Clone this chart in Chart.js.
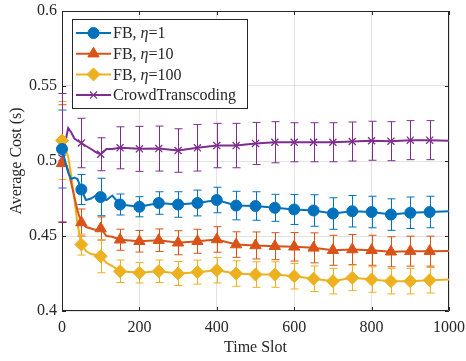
<!DOCTYPE html>
<html>
<head>
<meta charset="utf-8">
<script src="https://cdn.jsdelivr.net/npm/chart.js@4.4.1/dist/chart.umd.min.js"></script>
<style>
  html, body { margin: 0; padding: 0; background: #fff; }
  canvas { display: block; }
</style>
</head>
<body>
<canvas id="myChart" width="466" height="361"></canvas>
<script>
  // values
  const timeSlots = [0, 8, 16, 24, 32, 40, 50, 62, 75, 87, 100, 115, 130, 150, 200, 250, 300, 350, 400,
    450, 500, 550, 600, 650, 700, 750, 800, 850, 900, 950, 1000];
  const markerSlots = [0, 50, 100, 150, 200, 250, 300, 350, 400, 450, 500, 550, 600, 650, 700, 750, 800, 850, 900, 950];

  const costFB1 = [0.508, 0.500, 0.492, 0.488, 0.489, 0.488, 0.481, 0.474, 0.475, 0.477, 0.476, 0.474, 0.477, 0.471,
    0.4695, 0.472, 0.471, 0.472, 0.474, 0.4703, 0.470, 0.4688, 0.4677, 0.467, 0.465, 0.4665, 0.466, 0.4643, 0.4655, 0.466, 0.4665];
  const costFB10 = [0.4985, 0.499, 0.494, 0.485, 0.476, 0.467, 0.459, 0.456, 0.455, 0.454, 0.455, 0.450, 0.4495, 0.4475,
    0.4465, 0.4472, 0.4455, 0.4465, 0.4477, 0.4443, 0.4437, 0.4432, 0.4428, 0.4421, 0.4405, 0.441, 0.4405, 0.4395, 0.4399, 0.4399, 0.440];
  const costFB100 = [0.5137, 0.508, 0.503, 0.490, 0.475, 0.458, 0.4443, 0.440, 0.438, 0.4375, 0.4365, 0.432, 0.430, 0.4265,
    0.4255, 0.4265, 0.425, 0.4259, 0.4272, 0.425, 0.4243, 0.4243, 0.4232, 0.4215, 0.4199, 0.4221, 0.421, 0.4199, 0.4199, 0.4205, 0.421];
  const costCrowd = [0.502, 0.512, 0.522, 0.519, 0.515, 0.5135, 0.512, 0.510, 0.508, 0.506, 0.5045, 0.508, 0.508, 0.5088,
    0.5081, 0.5083, 0.507, 0.5088, 0.5103, 0.5103, 0.5117, 0.5125, 0.5125, 0.5125, 0.5125, 0.513, 0.5135, 0.5132, 0.5139, 0.5139, 0.5135];

  // half widths of the error bars at markerSlots
  const errFB1 = [0.026, 0.010, 0.0125, 0.007, 0.0067, 0.0075, 0.0085, 0.0086, 0.0085, 0.0095, 0.0095, 0.009, 0.010,
    0.0105, 0.0105, 0.0105, 0.0105, 0.0105, 0.0105, 0.0105];
  const errFB10 = [0.039, 0.009, 0.0077, 0.007, 0.0072, 0.0075, 0.008, 0.008, 0.0085, 0.0085, 0.009, 0.009, 0.0095,
    0.010, 0.010, 0.010, 0.010, 0.010, 0.010, 0.010];
  const errFB100 = [0.026, 0.007, 0.011, 0.0075, 0.0068, 0.0075, 0.008, 0.008, 0.0085, 0.0085, 0.0085, 0.0085, 0.0085,
    0.0085, 0.0085, 0.0085, 0.0085, 0.0085, 0.0085, 0.0085];
  const errCrowd = [0.043, 0.0165, 0.011, 0.014, 0.015, 0.015, 0.0145, 0.0155, 0.0148, 0.0148, 0.014, 0.0137, 0.013,
    0.013, 0.013, 0.013, 0.013, 0.013, 0.013, 0.013];

  const xTicks = [0, 200, 400, 600, 800, 1000];
  const yTicks = [0.4, 0.45, 0.5, 0.55, 0.6];

  const FONT = "'Liberation Serif', 'Times New Roman', serif";
  const AXIS = '#262626';

  const series = [
    { label: 'FB, η=1', values: costFB1, err: errFB1, color: '#0072BD', style: 'circle', r: 5.5, bw: 1 },
    { label: 'FB, η=10', values: costFB10, err: errFB10, color: '#D95319', style: 'triangle', r: 6.5, bw: 1 },
    { label: 'FB, η=100', values: costFB100, err: errFB100, color: '#EDB120', style: 'rectRot', r: 6.5, bw: 1 },
    { label: 'CrowdTranscoding', values: costCrowd, err: errCrowd, color: '#7E2F8E', style: 'crossRot', r: 5, bw: 1.3 }
  ];

  const datasets = series.map(s => ({
    label: s.label,
    data: timeSlots.map((t, i) => ({ x: t, y: s.values[i] })),
    errors: s.err,
    borderColor: s.color,
    backgroundColor: s.color,
    borderWidth: 2,
    pointStyle: s.style,
    pointRadius: ctx => markerSlots.includes(timeSlots[ctx.dataIndex]) ? s.r : 0,
    pointBorderWidth: s.bw,
    pointBackgroundColor: s.color,
    pointBorderColor: s.color,
    tension: 0,
    clip: false
  }));

  // vertical error bars with caps
  const errorBars = {
    id: 'errorBars',
    beforeDatasetsDraw(chart) {
      const { ctx, scales: { x, y } } = chart;
      chart.data.datasets.forEach(ds => {
        ctx.save();
        ctx.strokeStyle = ds.borderColor;
        ctx.lineWidth = 1;
        markerSlots.forEach((t, i) => {
          const v = ds.data[timeSlots.indexOf(t)].y;
          const px = Math.round(x.getPixelForValue(t)) + 0.5;
          const top = y.getPixelForValue(v + ds.errors[i]);
          const bot = y.getPixelForValue(v - ds.errors[i]);
          ctx.beginPath();
          ctx.moveTo(px, top); ctx.lineTo(px, bot);
          ctx.moveTo(px - 4, top); ctx.lineTo(px + 4, top);
          ctx.moveTo(px - 4, bot); ctx.lineTo(px + 4, bot);
          ctx.stroke();
        });
        ctx.restore();
      });
    }
  };

  // axes box with inward ticks
  const axesBox = {
    id: 'axesBox',
    beforeDatasetsDraw(chart) {
      const { ctx, chartArea: a, scales: { x, y } } = chart;
      ctx.save();
      ctx.strokeStyle = AXIS;
      ctx.lineWidth = 1;
      ctx.beginPath();
      ctx.rect(a.left + 0.5, a.top + 0.5, a.right - a.left - 1, a.bottom - a.top - 1);
      xTicks.forEach(t => {
        const px = Math.round(x.getPixelForValue(t)) + 0.5;
        ctx.moveTo(px, a.bottom); ctx.lineTo(px, a.bottom - 4);
        ctx.moveTo(px, a.top); ctx.lineTo(px, a.top + 4);
      });
      yTicks.forEach(t => {
        const py = Math.round(y.getPixelForValue(t)) + 0.5;
        ctx.moveTo(a.left, py); ctx.lineTo(a.left + 4, py);
        ctx.moveTo(a.right, py); ctx.lineTo(a.right - 4, py);
      });
      ctx.stroke();
      ctx.restore();
    }
  };

  // legend box in the top left corner, line + marker samples, eta in italics
  const boxLegend = {
    id: 'boxLegend',
    afterDraw(chart) {
      const { ctx } = chart;
      const left = 72, top = 19, w = 175, h = 89;
      ctx.save();
      ctx.fillStyle = '#fff';
      ctx.fillRect(left, top, w, h);
      ctx.strokeStyle = AXIS;
      ctx.lineWidth = 1;
      ctx.strokeRect(left + 0.5, top + 0.5, w, h);
      series.forEach((s, i) => {
        const cy = 33 + i * 20.7;
        ctx.strokeStyle = s.color;
        ctx.lineWidth = 2;
        ctx.beginPath();
        ctx.moveTo(76, cy); ctx.lineTo(111, cy);
        ctx.stroke();
        ctx.fillStyle = s.color;
        ctx.lineWidth = s.bw;
        Chart.helpers.drawPoint(ctx, { pointStyle: s.style, radius: s.r, rotation: 0, borderWidth: s.bw }, 93.5, cy);
        ctx.fillStyle = AXIS;
        ctx.textBaseline = 'middle';
        ctx.textAlign = 'left';
        let tx = 113;
        s.label.split(/(η)/).forEach(part => {
          if (!part) return;
          ctx.font = (part === 'η' ? 'italic ' : '') + '16px ' + FONT;
          ctx.fillText(part, tx, cy + 1);
          tx += ctx.measureText(part).width;
        });
      });
      ctx.restore();
    }
  };

  const config = {
    type: 'line',
    data: { datasets: datasets },
    options: {
      responsive: false,
      animation: false,
      events: [],
      layout: { padding: { top: 11, right: 17, left: 0, bottom: 0 } },
      plugins: { legend: { display: false }, tooltip: { enabled: false } },
      scales: {
        x: {
          type: 'linear',
          min: 0, max: 1000,
          afterBuildTicks: scale => { scale.ticks = xTicks.map(v => ({ value: v })); },
          afterFit: scale => { scale.height = 50; scale.paddingLeft = 0; scale.paddingRight = 0; },
          grid: { color: 'rgba(38,38,38,0.13)', drawTicks: false },
          border: { display: false },
          ticks: { color: AXIS, font: { family: FONT, size: 16 }, padding: 7, maxRotation: 0, callback: v => String(v) },
          title: { display: true, text: 'Time Slot', color: AXIS, font: { family: FONT, size: 16 }, padding: { top: 0, bottom: 4 } }
        },
        y: {
          type: 'linear',
          min: 0.4, max: 0.6,
          afterBuildTicks: scale => { scale.ticks = yTicks.map(v => ({ value: v })); },
          afterFit: scale => { scale.width = 62; scale.paddingTop = 0; scale.paddingBottom = 0; },
          grid: { color: 'rgba(38,38,38,0.13)', drawTicks: false },
          border: { display: false },
          ticks: { color: AXIS, font: { family: FONT, size: 16 }, padding: 5, callback: v => String(+v.toFixed(2)) },
          title: { display: true, text: 'Average Cost (s)', color: AXIS, font: { family: FONT, size: 16 }, padding: { top: 7, bottom: 0 } }
        }
      }
    },
    plugins: [axesBox, errorBars, boxLegend]
  };

  const myChart = new Chart(document.getElementById('myChart'), config);
</script>
</body>
</html>
